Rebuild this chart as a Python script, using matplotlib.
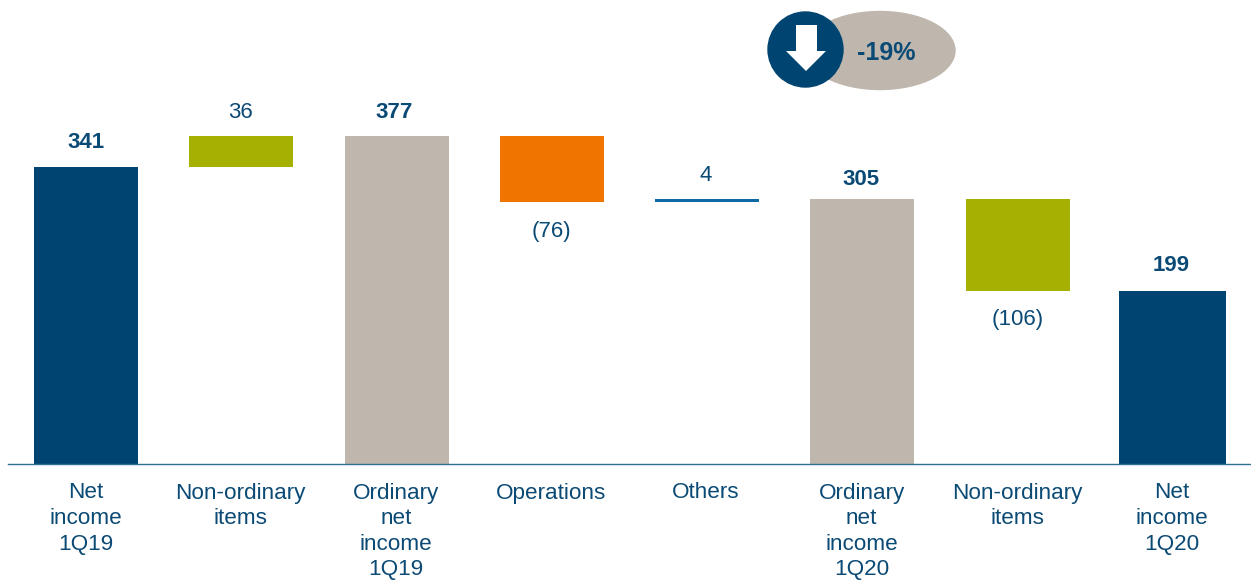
import matplotlib
matplotlib.use("Agg")
import matplotlib.pyplot as plt
from matplotlib.patches import Ellipse, Polygon

plt.rcParams['font.family'] = ['Liberation Sans', 'DejaVu Sans']

labels = ['Net\nincome\n1Q19', 'Non-ordinary\nitems', 'Ordinary\nnet\nincome\n1Q19', 'Operations', 'Others',
          'Ordinary\nnet\nincome\n1Q20', 'Non-ordinary\nitems', 'Net\nincome\n1Q20']
bottoms = [0, 341, 0, 301, 301, 0, 199, 0]
heights = [341, 36, 377, 76, 4, 305, 106, 199]
value_text = ['341', '36', '377', '(76)', '4', '305', '(106)', '199']
colors = ['#004471', '#a6b000', '#bfb7ad', '#f07400', '#0f69a5', '#bfb7ad', '#a6b000', '#004471']
bold = [True, False, True, False, False, True, False, True]
below = [False, False, False, True, False, False, True, False]

dark = '#0b4a75'
W, H = 1251, 580
fig = plt.figure(figsize=(W / 100, H / 100), dpi=100)
ax = fig.add_axes([0, 0, 1, 1])
ax.set_xlim(0, W)
ax.set_ylim(H, 0)
ax.axis('off')

base = 464
scale = (464 - 136) / 377
centers = [86, 241, 396.5, 551.5, 706.5, 862, 1017.5, 1172.5]
widths = [104, 104, 104, 104, 104, 104, 104, 107]
# gap between bar and its number, in pixels
gaps = [25, 23, 23, 29, 23, 19, 29, 25]
# numbers don't sit exactly over the bar centres
num_shift = [0, -1, -2.5, 0, -1, -1, 0, -1]

for i, c in enumerate(centers):
    top = base - (bottoms[i] + heights[i]) * scale
    ax.bar(c, heights[i] * scale, widths[i], bottom=top, color=colors[i], zorder=2)
    weight = 'bold' if bold[i] else 'normal'
    if below[i]:
        y = base - bottoms[i] * scale + gaps[i]
    else:
        y = top - gaps[i]
    ax.text(c + num_shift[i], y, value_text[i], ha='center', va='center', fontsize=16, fontweight=weight,
            color=dark)
    ax.text(c - 0.5, 482.5, labels[i], ha='center', va='top', fontsize=16.2, color=dark, linespacing=1.29)

ax.plot([8, 1250], [464, 464], color='#2f6f8f', lw=1, zorder=3)

# -19% badge
ax.add_patch(Ellipse((880, 50.5), 150, 78, color='#bfb7ad', zorder=2))
ax.add_patch(Ellipse((805.5, 49.5), 75, 75, color='#004471', zorder=3))
arrow = [(796, 25), (817, 25), (817, 51), (826, 51), (806, 71), (786, 51), (796, 51)]
ax.add_patch(Polygon(arrow, closed=True, facecolor='white', edgecolor='none', zorder=4))
ax.text(886, 53.5, '-19%', ha='center', va='center', fontsize=18, fontweight='bold', color=dark, zorder=5)

fig.savefig('out.png', dpi=100)
